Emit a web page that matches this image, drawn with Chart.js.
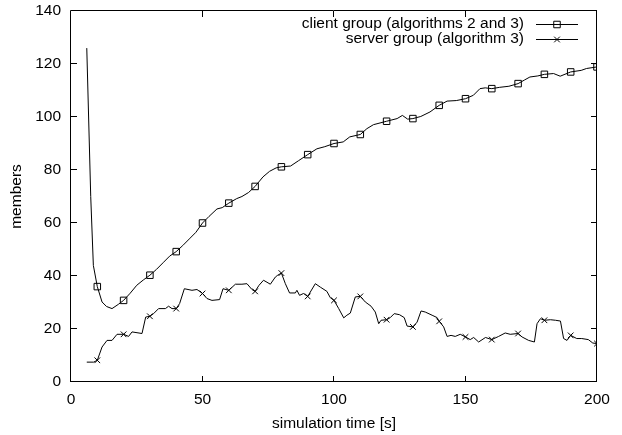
<!DOCTYPE html>
<html>
<head>
<meta charset="utf-8">
<script src="https://cdn.jsdelivr.net/npm/chart.js@4.4.1/dist/chart.umd.min.js"></script>
<style>
    body { margin: 0; background: #fff; }
    canvas { display: block; }
</style>
</head>
<body>
<canvas id="membersChart" width="622" height="435"></canvas>
<script>
// client group (algorithms 2 and 3)
const clientTime = [6, 7.5, 8.5, 10, 11.8, 13.5, 15.6, 18, 20, 22.5, 25, 27.5, 30, 32.5, 35, 37.5, 40, 42.5, 45, 47.5, 50, 52.5, 55.5, 57.5, 60, 63, 65, 67.5, 70, 73, 75.5, 78, 80, 83.5, 86.5, 90, 93.5, 96.5, 100, 103.5, 106, 110, 112.5, 115, 120, 124, 126, 128, 130, 133, 136.5, 140, 143, 146.5, 150, 153, 155.5, 157.5, 160, 163, 166.5, 170, 172.5, 174.5, 177.5, 180, 183.5, 186, 190, 194, 196, 200];
const clientMembers = [126, 70, 44, 36, 30.2, 28.5, 27.7, 29.3, 30.8, 33.5, 36.5, 38.5, 40.3, 42.5, 45, 47.5, 49.2, 51.5, 54, 56.5, 60, 62.5, 65.3, 65.8, 67.5, 69.2, 70, 71.5, 73.8, 77.4, 79.5, 80.8, 81.2, 81.5, 83.5, 85.8, 88, 88.8, 90, 90.6, 92.5, 93.4, 95.6, 97.1, 98.4, 99.4, 100.6, 99.2, 99.4, 100.2, 101.9, 104.4, 106, 106.2, 106.9, 108.2, 110.7, 111, 110.7, 111.2, 111.6, 112.6, 114, 115.1, 115.5, 116.1, 116.4, 115.4, 117, 117.6, 118.3, 118.9];

// server group (algorithm 3)
const serverTime = [6, 8.6, 10, 11.8, 13.7, 15.6, 17.5, 20, 21.9, 23.2, 27, 28.4, 30, 31.4, 33.3, 35.9, 37.1, 38.4, 40, 41.3, 43.1, 46, 47.9, 50, 51.7, 53.6, 56.5, 57.8, 60, 62.5, 65, 66.9, 68.8, 70, 71.5, 73.2, 75.8, 77.7, 78.6, 80, 81.5, 83.1, 85.3, 85.9, 86.9, 88.4, 90, 92.9, 94.8, 97.3, 98.6, 100, 101.8, 103.7, 104.9, 106.2, 108.1, 110, 111.9, 114.1, 115.7, 117, 117.9, 120, 121.4, 122.9, 124.9, 126.7, 127.8, 130, 131.6, 133.1, 134.7, 137.3, 139.2, 140, 141.7, 143, 144.5, 146.1, 148, 150, 151.8, 153.1, 155, 157.6, 160, 162.6, 165.1, 167, 170, 171.5, 174, 176.2, 177.2, 178.5, 180, 182.3, 184.2, 186.1, 187.3, 188.6, 190, 192.3, 194.2, 196.7, 198.4, 200];
const serverMembers = [7.5, 7.5, 8.2, 13.2, 15.7, 15.7, 18, 18, 17.2, 18.9, 18.3, 24.5, 24.8, 25.8, 27.7, 27.7, 28.6, 27.7, 27.7, 29.6, 35.2, 34.6, 34.9, 33.4, 31.5, 30.8, 31.1, 35.2, 34.6, 36.9, 36.9, 37.1, 34.9, 34.2, 36.5, 38.4, 36.9, 39.6, 40.3, 41.1, 37.1, 33.6, 33.6, 34.6, 32.7, 33.4, 32.3, 37.1, 35.8, 34.2, 31.8, 30.8, 27.7, 24.2, 25.2, 26, 32.1, 32.3, 30.2, 28.6, 26.4, 22, 23.3, 23.5, 24.3, 25.8, 25.4, 24.3, 21.1, 20.8, 22.6, 26.8, 26.4, 25.2, 24.3, 22.9, 20.8, 17.2, 17.6, 17.2, 18, 17, 16, 16.8, 15.1, 16.8, 16, 17.2, 18.5, 18, 18.3, 17, 15.7, 15.1, 22, 23.9, 23.3, 23.5, 23.3, 23, 16.4, 15.7, 17.6, 16.4, 16.4, 16, 14.7, 14.5];

const xTicks = [0, 50, 100, 150, 200];
const yTicks = [0, 20, 40, 60, 80, 100, 120, 140];
const seriesLabels = ["client group (algorithms 2 and 3)", "server group (algorithm 3)"];

const FONT = "'Liberation Sans', Arial, Helvetica, sans-serif";
const FONT_SIZE = 15.5;
const MARK_R = [4.6, 4];

function toPoints(xs, ys) {
    return xs.map((x, i) => ({ x: x, y: ys[i] }));
}

// marker only every 10 s, like gnuplot's pointinterval
function markerRadius(r) {
    return ctx => (ctx.raw && ctx.raw.x % 10 === 0 ? r : 0);
}

const datasets = [
    {
        label: seriesLabels[0],
        data: toPoints(clientTime, clientMembers),
        borderColor: "#000",
        borderWidth: 1,
        pointStyle: "rect",
        pointRadius: markerRadius(MARK_R[0]),
        pointBorderColor: "#000",
        pointBackgroundColor: "rgba(0,0,0,0)",
        pointBorderWidth: 1,
        tension: 0
    },
    {
        label: seriesLabels[1],
        data: toPoints(serverTime, serverMembers),
        borderColor: "#000",
        borderWidth: 1,
        pointStyle: "crossRot",
        pointRadius: markerRadius(MARK_R[1]),
        pointBorderColor: "#000",
        pointBackgroundColor: "rgba(0,0,0,0)",
        pointBorderWidth: 1,
        tension: 0
    }
];

// frame with inward ticks on all four sides + gnuplot style key
const gnuplotFrame = {
    id: "gnuplotFrame",
    afterDatasetsDraw(chart) {
        const { ctx, chartArea: a, scales } = chart;
        const tick = 6;
        ctx.save();
        ctx.strokeStyle = "#000";
        ctx.lineWidth = 1;
        ctx.beginPath();
        ctx.rect(Math.round(a.left) - 0.5, Math.round(a.top) - 0.5, Math.round(a.right - a.left), Math.round(a.bottom - a.top));
        xTicks.forEach(v => {
            const px = Math.round(scales.x.getPixelForValue(v)) - 0.5;
            ctx.moveTo(px, a.bottom); ctx.lineTo(px, a.bottom - tick);
            ctx.moveTo(px, a.top); ctx.lineTo(px, a.top + tick);
        });
        yTicks.forEach(v => {
            const py = Math.round(scales.y.getPixelForValue(v)) - 0.5;
            ctx.moveTo(a.left, py); ctx.lineTo(a.left + tick, py);
            ctx.moveTo(a.right, py); ctx.lineTo(a.right - tick, py);
        });
        ctx.stroke();

        // key
        ctx.font = FONT_SIZE + "px " + FONT;
        ctx.fillStyle = "#000";
        ctx.textAlign = "right";
        ctx.textBaseline = "middle";
        const textRight = 524, lineL = 536, lineR = 578, rowY = [24, 39];
        chart.data.datasets.forEach((ds, i) => {
            const y = rowY[i];
            ctx.fillStyle = "#000";
            ctx.fillText(ds.label, textRight, y);
            ctx.beginPath();
            ctx.moveTo(lineL, y + 0.5); ctx.lineTo(lineR, y + 0.5);
            ctx.stroke();
            ctx.fillStyle = "rgba(0,0,0,0)";
            Chart.helpers.drawPoint(ctx, { pointStyle: ds.pointStyle, radius: MARK_R[i], borderWidth: 1 }, (lineL + lineR) / 2, y + 0.5);
        });
        ctx.restore();
    }
};

new Chart(document.getElementById("membersChart"), {
    type: "line",
    data: { datasets: datasets },
    options: {
        responsive: false,
        animation: false,
        events: [],
        layout: { padding: { top: 11, right: 25, left: 0, bottom: 0 } },
        plugins: {
            legend: { display: false },
            tooltip: { enabled: false }
        },
        scales: {
            x: {
                type: "linear",
                min: 0,
                max: 200,
                grid: { display: false, drawTicks: false },
                border: { display: false },
                afterBuildTicks: s => { s.ticks = xTicks.map(v => ({ value: v })); },
                afterFit: s => { s.height = 53; s.paddingLeft = 0; s.paddingRight = 0; },
                ticks: { color: "#000", padding: 8, font: { family: FONT, size: FONT_SIZE } },
                title: {
                    display: true,
                    text: "simulation time [s]",
                    color: "#000",
                    padding: { top: 0, bottom: 2 },
                    font: { family: FONT, size: FONT_SIZE }
                }
            },
            y: {
                type: "linear",
                min: 0,
                max: 140,
                grid: { display: false, drawTicks: false },
                border: { display: false },
                afterBuildTicks: s => { s.ticks = yTicks.map(v => ({ value: v })); },
                afterFit: s => { s.width = 71; s.paddingTop = 0; s.paddingBottom = 0; },
                ticks: { color: "#000", padding: 10, font: { family: FONT, size: FONT_SIZE } },
                title: {
                    display: true,
                    text: "members",
                    color: "#000",
                    padding: { top: 7, bottom: 0 },
                    font: { family: FONT, size: FONT_SIZE }
                }
            }
        }
    },
    plugins: [gnuplotFrame]
});
</script>
</body>
</html>
